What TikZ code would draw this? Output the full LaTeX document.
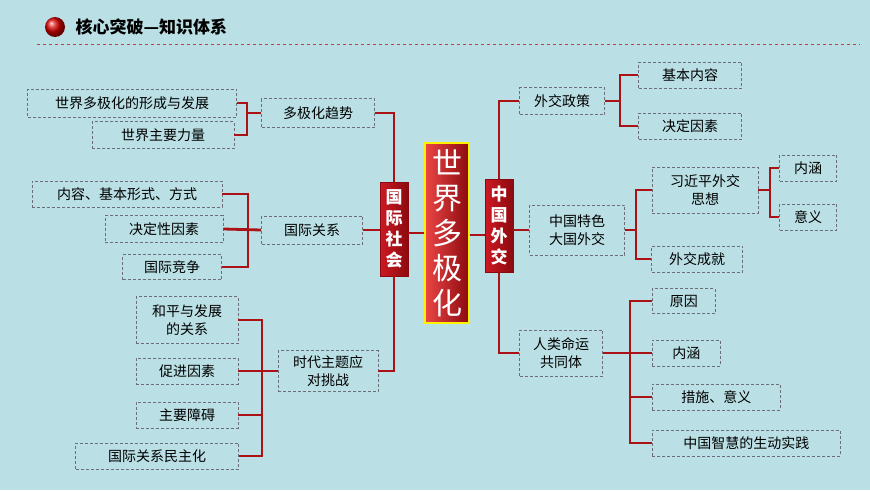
\documentclass[tikz,border=0pt]{standalone}
\usepackage{fontspec}
\setmainfont{Noto Sans CJK SC}
\usepackage{tikz}
\usetikzlibrary{positioning,shadings}
\definecolor{PageBg}{RGB}{186,224,229}
\definecolor{LinkRed}{RGB}{170,18,22}
\definecolor{BoxGray}{RGB}{110,110,120}
\definecolor{HubRed}{RGB}{205,25,35}
\definecolor{HubDark}{RGB}{140,10,15}
\definecolor{CoreLight}{RGB}{235,70,70}
\tikzset{
  % Dashed text box
  leaf/.style={
    draw=BoxGray,
    densely dashed,
    line width=0.8pt,
    inner sep=2pt,
    font=\fontsize{14}{18}\selectfont,
    align=center
  },
  % Red vertical hub
  hub/.style={
    draw=HubDark,
    left color=HubRed,
    right color=HubDark,
    text=white,
    inner sep=1pt,
    minimum width=28,
    font=\bfseries\fontsize{17}{21}\selectfont,
    align=center
  },
  % Connector
  link/.style={
    draw=LinkRed,
    line width=2.8pt
  }
}
\begin{document}
\begin{tikzpicture}[x=1pt,y=-1pt]
  \useasboundingbox[fill=PageBg] (0,0) rectangle (870,490);
  % Title
  \shade[ball color=red!85!black] (55,27) circle (10);
  \node[anchor=west, font=\bfseries\fontsize{17}{19}\selectfont] (title) at (72,27) {核心突破—知识体系};
  \draw[LinkRed!80, dashed, line width=0.8pt] (37,44) -- (860,44);
  % Hubs
  \node[hub, draw=yellow, line width=1.2pt, minimum width=44, minimum height=180,
        left color=CoreLight, right color=HubDark,
        font=\fontsize{30}{35}\selectfont] (core) at (447,233) {世\\界\\多\\极\\化};
  \node[hub, minimum height=94] (society) at (394,229) {国\\际\\社\\会};
  \node[hub, minimum height=93] (diplomacy) at (499,226) {中\\国\\外\\交};
  \draw[link] (society.east |- 0,233) -- (core.west |- 0,233);
  \draw[link] (core.east |- 0,235) -- (diplomacy.west |- 0,235);
  % Left branches
  \node[leaf, minimum width=113, minimum height=29] (trend) at (318,113) {多极化趋势};
  \node[leaf, minimum width=101, minimum height=28] (relation) at (312,230) {国际关系};
  \node[leaf, minimum width=100, minimum height=41] (theme) at (328,371) {时代主题应\\对挑战};
  \draw[link] (trend.east) -| (society.north);
  \draw[link] (relation.east) -- (relation.east -| society.west);
  \draw[link] (society.south) |- (theme.east);
  % Trend leaves
  \node[leaf, minimum width=209, minimum height=28] (formation) at (132,103) {世界多极化的形成与发展};
  \node[leaf, minimum width=142, minimum height=27] (powers) at (163,135) {世界主要力量};
  \coordinate (tb) at (247,113);
  \draw[link] (formation.east) -| (tb) |- (powers.east);
  \draw[link] (tb) -- (trend.west);
  % Relation leaves
  \node[leaf, minimum width=190, minimum height=26] (content) at (127,194) {内容、基本形式、方式};
  \node[leaf, minimum width=118, minimum height=27] (decisive) at (164,229) {决定性因素};
  \node[leaf, minimum width=99, minimum height=25] (compete) at (172,267) {国际竞争};
  \coordinate (rb) at (248,230);
  \draw[link] (content.east) -| (rb) |- (compete.east);
  \draw[link] (decisive.east) -- (relation.west);
  % Theme leaves
  \node[leaf, minimum width=102, minimum height=47] (peace) at (187,320) {和平与发展\\的关系};
  \node[leaf, minimum width=102, minimum height=26] (promote) at (187,371) {促进因素};
  \node[leaf, minimum width=102, minimum height=26] (obstacle) at (187,415) {主要障碍};
  \node[leaf, minimum width=163, minimum height=26] (democracy) at (157,456) {国际关系民主化};
  \coordinate (thb) at (262,371);
  \draw[link] (peace.east) -| (thb) |- (democracy.east);
  \draw[link] (promote.east) -- (theme.west);
  \draw[link] (obstacle.east) -- (obstacle.east -| thb);
  % Right branches
  \node[leaf, minimum width=85, minimum height=27] (policy) at (562,101) {外交政策};
  \node[leaf, minimum width=95, minimum height=50] (power) at (577,230) {中国特色\\大国外交};
  \node[leaf, minimum width=83, minimum height=46] (community) at (561,353) {人类命运\\共同体};
  \draw[link] (diplomacy.north) |- (policy.west);
  \draw[link] (diplomacy.east |- power.west) -- (power.west);
  \draw[link] (diplomacy.south) |- (community.west);
  % Policy leaves
  \node[leaf, minimum width=103, minimum height=26] (basic) at (690,75) {基本内容};
  \node[leaf, minimum width=103, minimum height=26] (factor) at (690,126) {决定因素};
  \coordinate (pb) at (620,101);
  \draw[link] (basic.west) -| (pb) |- (factor.west);
  \draw[link] (pb) -- (policy.east);
  % Great-power diplomacy leaves
  \node[leaf, minimum width=106, minimum height=46] (thought) at (705,190) {习近平外交\\思想};
  \node[leaf, minimum width=91, minimum height=26] (achieve) at (697,259) {外交成就};
  \coordinate (gb) at (636,230);
  \draw[link] (thought.west) -| (gb) |- (achieve.west);
  \draw[link] (gb) -- (power.east);
  % Thought leaves
  \node[leaf, minimum width=57, minimum height=26] (meaning) at (808,168) {内涵};
  \node[leaf, minimum width=57, minimum height=26] (value) at (808,217) {意义};
  \coordinate (xb) at (770,190);
  \draw[link] (meaning.west) -| (xb) |- (value.west);
  \draw[link] (xb) -- (thought.east);
  % Community leaves
  \node[leaf, minimum width=63, minimum height=25, anchor=west] (cause) at (652,301) {原因};
  \node[leaf, minimum width=68, minimum height=26, anchor=west] (essence) at (652,353) {内涵};
  \node[leaf, minimum width=128, minimum height=26, anchor=west] (measure) at (652,397) {措施、意义};
  \node[leaf, minimum width=188, minimum height=26, anchor=west] (wisdom) at (652,443) {中国智慧的生动实践};
  \coordinate (cb) at (630,353);
  \draw[link] (cause.west) -| (cb) |- (wisdom.west);
  \draw[link] (community.east) -- (essence.west);
  \draw[link] (measure.west) -- (measure.west -| cb);
\end{tikzpicture}
\end{document}
